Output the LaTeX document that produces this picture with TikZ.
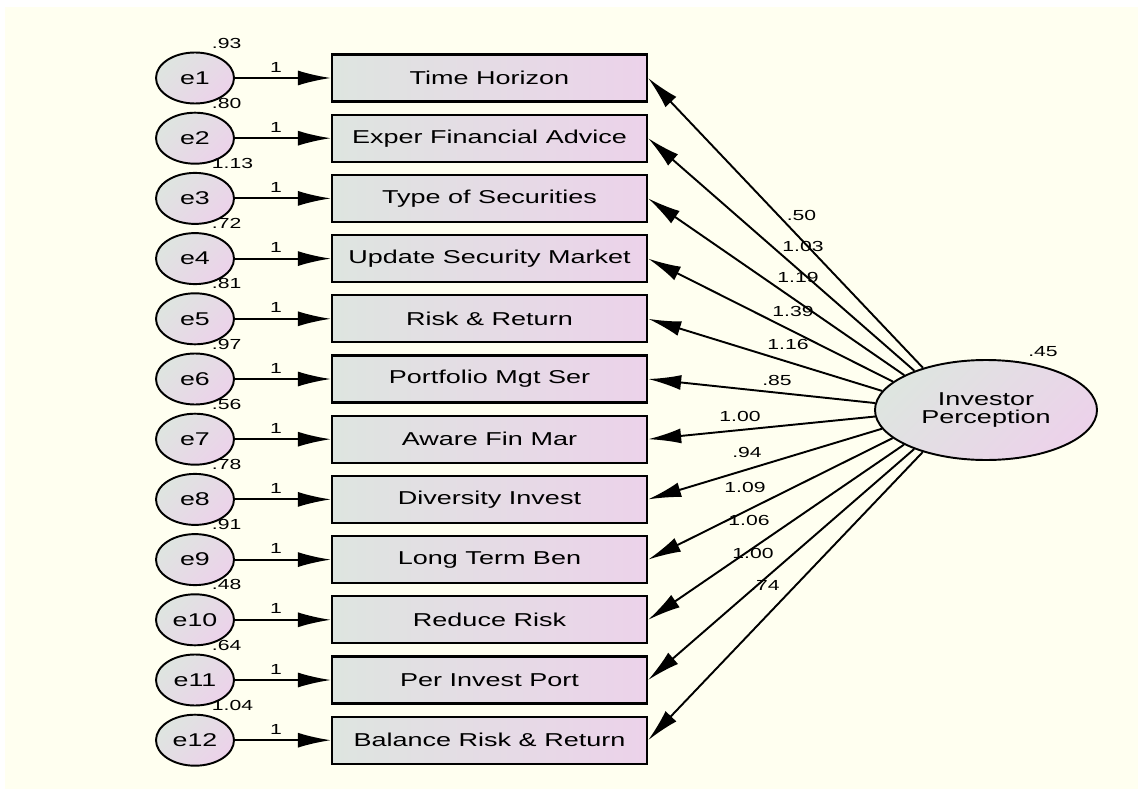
\documentclass[tikz,border=0pt]{standalone}
\usepackage{fontspec}
\newfontfamily\amosfont[FakeStretch=1.45]{Liberation Sans}
\usetikzlibrary{arrows.meta,shapes.geometric}
\definecolor{bgivory}{RGB}{255,255,240}
\definecolor{shgrey}{RGB}{222,229,224}
\definecolor{shpink}{RGB}{236,210,234}

\begin{document}
\begin{tikzpicture}[>={Latex[length=0.66cm,width=0.3cm]}, line width=1.1pt,
        errvar/.style={ellipse, draw, minimum width=1.56cm, minimum height=1.02cm, inner sep=0pt,
            top color=shgrey, bottom color=shpink, shading angle=45,
            font=\amosfont\fontsize{10.5}{12}\selectfont},
        obsbox/.style={rectangle, draw, line width=1.3pt, minimum width=6.3cm, minimum height=0.94cm,
            inner sep=0pt, left color=shgrey, right color=shpink,
            font=\amosfont\fontsize{10.6}{12}\selectfont},
        latent/.style={ellipse, draw, minimum width=4.44cm, minimum height=2cm, inner sep=0pt,
            top color=shgrey, bottom color=shpink, shading angle=45, align=center,
            font=\amosfont\fontsize{10.6}{12}\selectfont},
        est/.style={inner sep=0pt, font=\amosfont\fontsize{8.3}{9}\selectfont}]
        % ==== CANVAS ====
        \useasboundingbox (0,0) rectangle (22.76,15.78);
        \fill[bgivory] (0.1,0) rectangle (22.76,15.64);

        % ==== ERRORS AND INDICATORS ====
        \foreach \i/\boxtext/\vr in {1/Time Horizon/.93, 2/Exper Financial Advice/.80,
            3/Type of Securities/1.13, 4/Update Security Market/.72, 5/Risk \& Return/.81,
            6/Portfolio Mgt Ser/.97, 7/Aware Fin Mar/.56, 8/Diversity Invest/.78,
            9/Long Term Ben/.91, 10/Reduce Risk/.48, 11/Per Invest Port/.64,
            12/Balance Risk \& Return/1.04} {
            \pgfmathsetmacro\ry{14.22-1.204*(\i-1)}
            \node[errvar] (e\i) at (3.9,\ry) {e\i};
            \node[obsbox] (obs\i) at (9.79,\ry) {\boxtext};
            \draw[->] (e\i) -- (obs\i);
            \node[est, anchor=west] at (4.22,\ry+0.7) {\vr};
            \node[est] at (5.52,\ry+0.22) {1};
        }

        % ==== LATENT FACTOR ====
        \node[latent] (ip) at (19.72,7.58) {Investor\\[-2pt]Perception};
        \node[est] at (20.86,8.74) {.45};

        % ==== LOADINGS ====
        % start on the ellipse where the centre line to each box leaves it
        \foreach \i/\w/\lx/\ly in {1/.50/16.03/11.48, 2/1.03/16.06/10.85, 3/1.19/15.96/10.23,
            4/1.39/15.86/9.56, 5/1.16/15.76/8.90, 6/.85/15.54/8.18, 7/1.00/14.80/7.46,
            8/.94/14.94/6.74, 9/1.09/14.90/6.04, 10/1.06/14.98/5.38, 11/1.00/15.06/4.72,
            12/.74/15.30/4.08} {
            \path (ip) -- (obs\i) coordinate[pos=0] (s\i);
            \draw[->] (s\i) -- (obs\i.east);
            \node[est] at (\lx,\ly) {\w};
        }
    \end{tikzpicture}
\end{document}
